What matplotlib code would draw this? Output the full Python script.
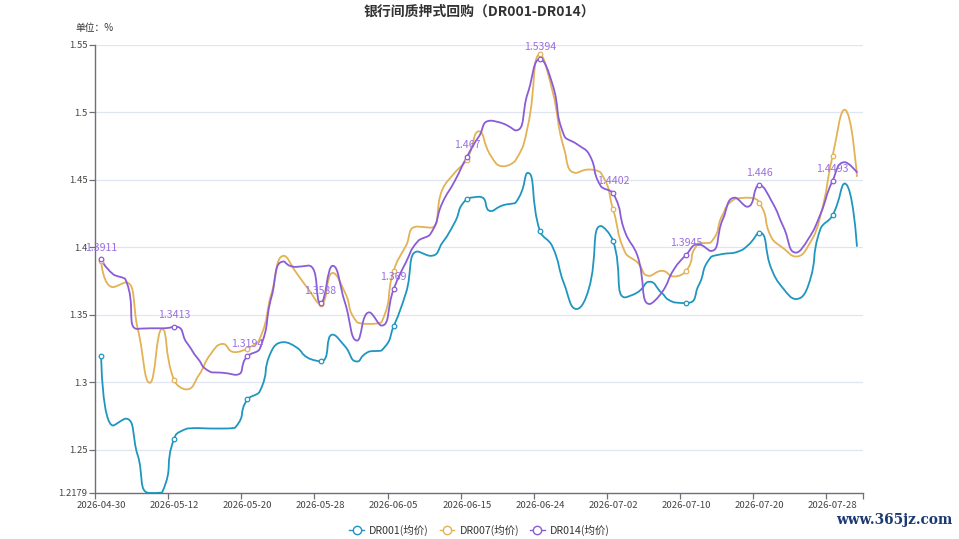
import matplotlib
matplotlib.use("Agg")

import matplotlib.pyplot as plt
import numpy as np
from matplotlib.path import Path
from matplotlib.patches import PathPatch
from matplotlib.lines import Line2D

plt.rcParams["font.family"] = ["Noto Sans CJK SC", "DejaVu Sans"]

# trading days shown on the category axis
dates = [
    "2026-04-30", "2026-05-06", "2026-05-07", "2026-05-08", "2026-05-09", "2026-05-11",
    "2026-05-12", "2026-05-13", "2026-05-14", "2026-05-15", "2026-05-18", "2026-05-19",
    "2026-05-20", "2026-05-21", "2026-05-22", "2026-05-25", "2026-05-26", "2026-05-27",
    "2026-05-28", "2026-05-29", "2026-06-01", "2026-06-02", "2026-06-03", "2026-06-04",
    "2026-06-05", "2026-06-08", "2026-06-09", "2026-06-10", "2026-06-11", "2026-06-12",
    "2026-06-15", "2026-06-16", "2026-06-17", "2026-06-18", "2026-06-22", "2026-06-23",
    "2026-06-24", "2026-06-25", "2026-06-26", "2026-06-29", "2026-06-30", "2026-07-01",
    "2026-07-02", "2026-07-03", "2026-07-06", "2026-07-07", "2026-07-08", "2026-07-09",
    "2026-07-10", "2026-07-13", "2026-07-14", "2026-07-15", "2026-07-16", "2026-07-17",
    "2026-07-20", "2026-07-21", "2026-07-22", "2026-07-23", "2026-07-24", "2026-07-27",
    "2026-07-28", "2026-07-29", "2026-07-30",
]

dr001 = [
    1.3198, 1.2679, 1.2730, 1.2460, 1.2179, 1.2182, 1.2583, 1.2655, 1.2660, 1.2657,
    1.2657, 1.2664, 1.2873, 1.2930, 1.3235, 1.3297, 1.3260, 1.3179, 1.3154, 1.3353,
    1.3267, 1.3154, 1.3228, 1.3235, 1.3415, 1.3660, 1.3969, 1.3937, 1.4035, 1.4183,
    1.4360, 1.4375, 1.4269, 1.4313, 1.4331, 1.4552, 1.4121, 1.4010, 1.3725, 1.3543,
    1.3690, 1.4158, 1.4047, 1.3629, 1.3666, 1.3745, 1.3661, 1.3592, 1.3587, 1.3715,
    1.3925, 1.3951, 1.3961, 1.4010, 1.4109, 1.3838, 1.3690, 1.3617, 1.3715, 1.4134,
    1.4237, 1.4473, 1.4010,
]

dr007 = [
    1.3900, 1.3705, 1.3740, 1.3400, 1.2996, 1.3395, 1.3013, 1.2947, 1.3050, 1.3210,
    1.3284, 1.3223, 1.3250, 1.3320, 1.3666, 1.3937, 1.3814, 1.3690, 1.3580, 1.3810,
    1.3666, 1.3445, 1.3432, 1.3445, 1.3826, 1.4010, 1.4154, 1.4146, 1.4429, 1.4552,
    1.4651, 1.4860, 1.4675, 1.4601, 1.4646, 1.4897, 1.5430, 1.5168, 1.4725, 1.4552,
    1.4577, 1.4552, 1.4281, 1.3961, 1.3888, 1.3789, 1.3826, 1.3784, 1.3826, 1.4028,
    1.4035, 1.4244, 1.4360, 1.4368, 1.4331, 1.4072, 1.3991, 1.3932, 1.4010, 1.4232,
    1.4675, 1.5020, 1.4527,
]

dr014 = [
    1.3911, 1.3800, 1.3762, 1.3395, 1.3400, 1.3400, 1.3413, 1.3297, 1.3168, 1.3075,
    1.3070, 1.3055, 1.3194, 1.3245, 1.3640, 1.3895, 1.3855, 1.3865, 1.3588, 1.3863,
    1.3592, 1.3309, 1.3518, 1.3420, 1.3690, 1.3888, 1.4047, 1.4097, 1.4331, 1.4490,
    1.4670, 1.4823, 1.4939, 1.4917, 1.4867, 1.5143, 1.5394, 1.5217, 1.4825, 1.4767,
    1.4695, 1.4453, 1.4402, 1.4109, 1.3937, 1.3580, 1.3666, 1.3838, 1.3945, 1.4023,
    1.3973, 1.4208, 1.4368, 1.4301, 1.4460, 1.4343, 1.4146, 1.3961, 1.4060, 1.4244,
    1.4493, 1.4631, 1.4557,
]

series_names = ["DR001(均价)", "DR007(均价)", "DR014(均价)"]
series_colors = ["#1f96bf", "#e3b255", "#8a5cd6"]
y_ticks = [1.2179, 1.25, 1.3, 1.35, 1.4, 1.45, 1.5, 1.55]
y_tick_labels = ["1.2179", "1.25", "1.3", "1.35", "1.4", "1.45", "1.5", "1.55"]

STEP = 6           # symbol / label interval on the category axis
PX_X = 12.19       # approx pixels per category
PX_Y = 27080.0     # approx pixels per unit of rate


def smooth_path(xs, ys, smooth=0.5):
    """Bezier path the way echarts draws `smooth: true` lines (done in pixel space)."""
    px = np.asarray(xs, float) * PX_X
    py = np.asarray(ys, float) * PX_Y
    n = len(px)
    verts = [(px[0], py[0])]
    codes = [Path.MOVETO]
    cpx0, cpy0 = px[0], py[0]
    for i in range(1, n):
        x, y = px[i], py[i]
        prev_x, prev_y = px[i - 1], py[i - 1]
        nx0 = ny0 = None
        if i == n - 1:
            cpx1, cpy1 = x, y
        else:
            next_x, next_y = px[i + 1], py[i + 1]
            vx, vy = next_x - prev_x, next_y - prev_y
            lp = np.hypot(x - prev_x, y - prev_y)
            ln = np.hypot(next_x - x, next_y - y)
            r = ln / (ln + lp)
            nx0 = x + vx * smooth * r
            ny0 = y + vy * smooth * r
            nx0 = max(min(nx0, max(next_x, x)), min(next_x, x))
            ny0 = max(min(ny0, max(next_y, y)), min(next_y, y))
            vx, vy = nx0 - x, ny0 - y
            cpx1 = x - vx * lp / ln
            cpy1 = y - vy * lp / ln
            cpx1 = max(min(cpx1, max(prev_x, x)), min(prev_x, x))
            cpy1 = max(min(cpy1, max(prev_y, y)), min(prev_y, y))
            vx, vy = x - cpx1, y - cpy1
            nx0 = x + vx * ln / lp
            ny0 = y + vy * ln / lp
        verts += [(cpx0, cpy0), (cpx1, cpy1), (x, y)]
        codes += [Path.CURVE4] * 3
        cpx0, cpy0 = nx0, ny0
    verts = np.array(verts)
    verts[:, 0] /= PX_X
    verts[:, 1] /= PX_Y
    return Path(verts, codes)


fig = plt.figure(figsize=(9.59, 5.39), dpi=100)
ax = fig.add_axes([95 / 959, 46 / 539, 768 / 959, 448 / 539])

x = np.arange(len(dates))
ax.set_xlim(-0.5, len(dates) - 0.5)
ax.set_ylim(y_ticks[0], y_ticks[-1])

# grid
for yv in y_ticks[1:]:
    ax.axhline(yv, color="#e0e6f1", linewidth=0.9, zorder=0)

for k, (vals, name, col) in enumerate(zip([dr001, dr007, dr014], series_names, series_colors)):
    patch = PathPatch(smooth_path(x, vals), facecolor="none", edgecolor=col,
                      linewidth=1.3, zorder=3 + k, capstyle="round", joinstyle="round")
    ax.add_patch(patch)
    sel = x[::STEP]
    ax.plot(sel, np.asarray(vals)[::STEP], linestyle="none", marker="o",
            markersize=3.3, markerfacecolor="white", markeredgecolor=col,
            markeredgewidth=0.9, zorder=6 + k, clip_on=False)

# value labels of DR014
for i in x[::STEP]:
    ax.annotate(f"{dr014[i]:g}", (i, dr014[i]), xytext=(0, 8.5),
                textcoords="offset points", ha="center", va="center",
                fontsize=7.6, color="#9a6fdf", zorder=10, annotation_clip=False)

# axes cosmetics
for s in ("top", "right"):
    ax.spines[s].set_visible(False)
for s in ("left", "bottom"):
    ax.spines[s].set_color("#6e7079")
    ax.spines[s].set_linewidth(1.0)

ax.set_yticks(y_ticks)
ax.set_yticklabels(y_tick_labels)
ax.tick_params(axis="y", length=4, width=0.9, color="#6e7079", pad=1.5,
               labelsize=6.8, labelcolor="#444444")

ax.set_xticks(x[::STEP])
ax.set_xticklabels([dates[i] for i in x[::STEP]])
ax.tick_params(axis="x", which="major", length=0, pad=5.5, labelsize=6.9,
               labelcolor="#444444")
ax.set_xticks(list(np.arange(-0.5, len(dates) - 0.5, STEP)) + [len(dates) - 0.5], minor=True)
ax.tick_params(axis="x", which="minor", length=4, width=0.9, color="#6e7079")

fig.text(0.5, 1 - 12 / 539, "银行间质押式回购（DR001-DR014）", ha="center", va="center",
         fontsize=10, fontweight="bold", color="#333333")
fig.text(75 / 959, 1 - 28 / 539, "单位：%", ha="left", va="center",
         fontsize=7, color="#333333")

handles = [Line2D([0], [0], color=c, linewidth=1.0, marker="o", markersize=6,
                  markerfacecolor="white", markeredgecolor=c, markeredgewidth=1.0)
           for c in series_colors]
fig.legend(handles, series_names, loc="center", bbox_to_anchor=(0.5, 9 / 539),
           ncol=3, frameon=False, fontsize=7.6, handlelength=1.4,
           handletextpad=0.5, columnspacing=1.0, labelcolor="#333333")

fig.text(952 / 959, 19 / 539, "www.365jz.com", ha="right", va="center",
         fontsize=9.8, color="#1c3a72", family="DejaVu Serif", fontweight="bold")

fig.savefig("out.png", dpi=100)
plt.close(fig)
